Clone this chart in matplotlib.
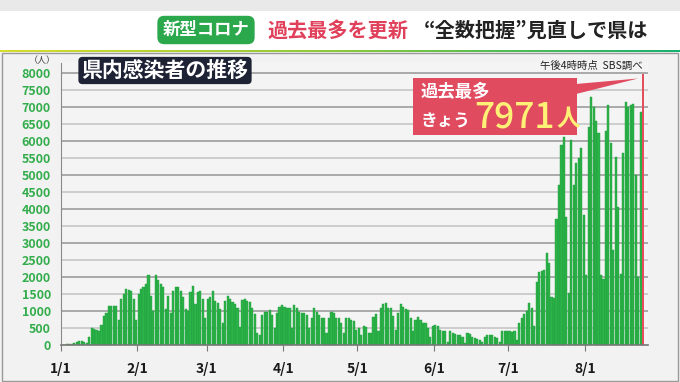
import matplotlib.pyplot as plt
import numpy as np
from matplotlib.patches import Rectangle, Polygon
from matplotlib.colors import LinearSegmentedColormap

plt.rcParams['font.family'] = ['Noto Sans CJK JP', 'DejaVu Sans']

# daily new cases in the prefecture, 2022 (1/1 .. 8/24)
month_labels = ['1/1', '2/1', '3/1', '4/1', '5/1', '6/1', '7/1', '8/1']
month_start = [0, 31, 59, 90, 120, 151, 181, 212]

jan = [5, 10, 20, 25, 40, 50, 90, 120, 130, 100, 60, 250, 500, 480, 450, 400,
       600, 850, 950, 1150, 1150, 1150, 1150, 750, 1350, 1500, 1650, 1620, 1600,
       1350, 750]
feb = [1500, 1650, 1700, 1800, 2050, 1450, 1000, 2050, 1900, 1800, 1700, 1050,
       1450, 950, 1600, 1700, 1700, 1600, 1400, 1050, 1000, 1550, 1750, 1200,
       1550, 1600, 1350, 800]
mar = [1350, 1400, 1600, 1300, 1250, 1050, 650, 1300, 1450, 1350, 1270, 1220,
       1100, 540, 1320, 1340, 1300, 1270, 1100, 900, 340, 290, 880, 980, 980,
       1030, 880, 490, 930, 1130, 1180]
apr = [1130, 1080, 1080, 490, 1180, 1080, 980, 930, 930, 880, 490, 780, 1080,
       980, 880, 780, 780, 340, 780, 980, 930, 780, 780, 640, 340, 780, 800,
       750, 700, 450]
may = [500, 300, 550, 520, 350, 350, 820, 920, 400, 1100, 1200, 1250, 1100,
       1100, 850, 450, 950, 1200, 1120, 1050, 1020, 800, 420, 750, 820, 750,
       650, 650, 500, 250, 550]
jun = [600, 550, 450, 420, 420, 100, 400, 350, 320, 300, 280, 250, 60, 350,
       320, 250, 200, 180, 150, 80, 250, 300, 300, 280, 250, 220, 100, 400,
       400, 420]
jul = [400, 380, 400, 150, 650, 800, 900, 1000, 1250, 1100, 550, 1860, 2160,
       2180, 2200, 2700, 2400, 1420, 1370, 3720, 4700, 5880, 6125, 3770, 1520,
       6030, 4700, 5340, 5500, 5800, 3820]
aug = [2060, 6420, 7300, 7010, 6600, 6250, 2050, 1950, 6300, 7060, 5930, 2800,
       5540, 4050, 2080, 5640, 7150, 7010, 7060, 7100, 5000, 2010, 6860, 7971]

cases = np.array(jan + feb + mar + apr + may + jun + jul + aug)
days = np.arange(len(cases))

W, H = 680, 382


def fx(x):
    return x / W


def fy(y):
    return 1 - y / H


fig = plt.figure(figsize=(W / 100, H / 100), dpi=100)
fig.patch.set_facecolor('#f2f2f2')

# header band
fig.patches.append(Rectangle((0, fy(11)), 1, 11 / H, transform=fig.transFigure,
                             facecolor='#e9e9e9', edgecolor='none', zorder=0))
fig.patches.append(Rectangle((0, fy(50)), 1, 39 / H, transform=fig.transFigure,
                             facecolor='white', edgecolor='none', zorder=0))
fig.patches.append(Rectangle((fx(2), fy(381)), fx(676), 328 / H, transform=fig.transFigure,
                             facecolor='none', edgecolor='#9a9a9a', lw=1, zorder=0))

# gradient rule under the header
gax = fig.add_axes([0, fy(52), 1, 2.5 / H])
cmap = LinearSegmentedColormap.from_list('hdr', ['#d8dc2c', '#8cc83c', '#18b070'])
gax.imshow(np.linspace(0, 1, 256)[None, :], aspect='auto', cmap=cmap)
gax.axis('off')

fig.text(fx(206), fy(30), '新型コロナ', color='white', fontsize=12.5, fontweight='bold',
         ha='center', va='center',
         bbox=dict(boxstyle='round,pad=0.3,rounding_size=0.4', fc='#2aa84b', ec='none'))
fig.text(fx(267), fy(30), '過去最多を更新', color='#e0405a', fontsize=14.5,
         fontweight='bold', ha='left', va='center')
fig.text(fx(648), fy(30), '“全数把握”見直しで県は', color='#222222', fontsize=14.5,
         fontweight='bold', ha='right', va='center')

# main chart
ax = fig.add_axes([fx(60.7), fy(345), (648 - 60.7) / W, (345 - 62.8) / H])
ax.set_facecolor('#f4f4f4')
ax.set_xlim(0, 237.5)
ax.set_ylim(0, 8300)

for v in range(500, 8001, 500):
    if v % 1000 == 0:
        ax.axhline(v, color='#a9a9a9', lw=1.4, zorder=0)
    else:
        ax.axhline(v, color='#c6c6c6', lw=1.2, zorder=0)

ax.bar(days[:-1] + 0.5, cases[:-1], width=0.86, color='#2cb44a',
       edgecolor='#1e9a3a', linewidth=0.3, zorder=2)
ax.bar(days[-1:] + 0.5, cases[-1:], width=0.7, color='#e2505f', zorder=2)

ax.set_yticks(range(0, 8001, 500))
ax.set_yticklabels([str(v) for v in range(0, 8001, 500)])
ax.set_xticks(month_start)
ax.set_xticklabels(month_labels)
ax.tick_params(axis='y', length=0, pad=7, labelsize=9, labelcolor='#33ad4c')
ax.tick_params(axis='x', length=4, color='#777777', pad=8, labelsize=10,
               labelcolor='#1a1a1a')
for lab in ax.get_yticklabels() + ax.get_xticklabels():
    lab.set_fontweight('bold')

for s in ['top', 'right']:
    ax.spines[s].set_visible(False)
ax.spines['left'].set_color('#8a8a8a')
ax.spines['bottom'].set_color('#777777')
ax.spines['bottom'].set_linewidth(1.2)

fig.text(fx(42), fy(60.5), '（人）', color='#444444', fontsize=6.5, ha='center', va='center')

fig.text(fx(165), fy(70.5), '県内感染者の推移', color='white', fontsize=15,
         fontweight='bold', ha='center', va='center',
         bbox=dict(boxstyle='round,pad=0.15,rounding_size=0.2', fc='#1e2235', ec='none'))

fig.text(fx(643), fy(66), '午後4時時点  SBS調べ', color='#222222', fontsize=7.5,
         ha='right', va='center')

# callout
fig.patches.append(Polygon([(fx(576), fy(84)), (fx(638), fy(78.5)), (fx(576), fy(94))],
                           closed=True, transform=fig.transFigure,
                           facecolor='#e14b60', edgecolor='none', zorder=3))
fig.patches.append(Rectangle((fx(413), fy(135)), (577 - 413) / W, 57 / H,
                             transform=fig.transFigure, facecolor='#e14b60',
                             edgecolor='none', zorder=3))
fig.text(fx(421), fy(92), '過去最多', color='white', fontsize=12.5, fontweight='bold',
         ha='left', va='center', zorder=4)
fig.text(fx(421), fy(121), 'きょう', color='white', fontsize=12, fontweight='bold',
         ha='left', va='center', zorder=4)
fig.text(fx(555), fy(117), f'{cases[-1]}', color='#fff176', fontsize=25.5,
         fontweight='medium', ha='right', va='center', zorder=4)
fig.text(fx(556), fy(119), '人', color='#fff176', fontsize=17, fontweight='bold',
         ha='left', va='center', zorder=4)

fig.savefig('out.png', dpi=100, facecolor=fig.get_facecolor())
